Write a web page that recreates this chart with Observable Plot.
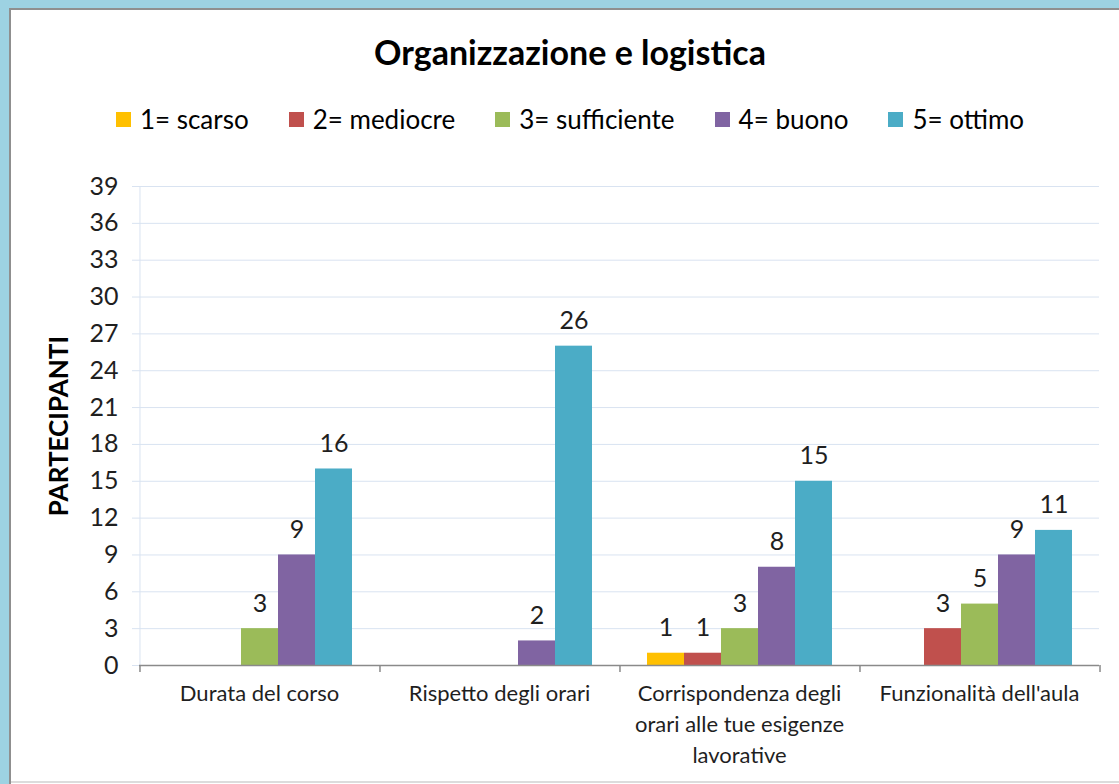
<!DOCTYPE html>
<html><head><meta charset="utf-8">
<script src="https://cdn.jsdelivr.net/npm/d3@7"></script>
<script src="https://cdn.jsdelivr.net/npm/@observablehq/plot@0.6"></script>
<style>
html,body{margin:0;padding:0;background:#fff;}
#frame{position:relative;width:1119px;height:784px;overflow:hidden;font-family:Lato, "Open Sans", sans-serif;color:#000;}
#bt{position:absolute;left:0;top:0;width:1119px;height:8px;background:#9dd2e2;}
#bl{position:absolute;left:0;top:0;width:9px;height:784px;background:#9dd2e2;}
#gt{position:absolute;left:9px;top:8px;width:1110px;height:2px;background:#8f8f8f;}
#gl{position:absolute;left:9px;top:8px;width:2px;height:776px;background:#8f8f8f;}
#gb{position:absolute;left:11px;top:781px;width:1108px;height:2px;background:#dcdcdc;}
#title{position:absolute;left:11px;width:1118px;top:30px;text-align:center;font-weight:bold;font-size:34px;line-height:44px;}
#legend{position:absolute;left:11px;width:1118px;top:104px;height:30px;display:flex;justify-content:center;align-items:center;font-size:26px;}
#legend .item{display:flex;align-items:center;margin:0 20px;}
#legend .sw{width:15px;height:15px;margin-right:9px;}
#chart{position:absolute;left:11px;top:160px;}
</style>
</head><body>
<div id="frame">
  <div id="bt"></div><div id="bl"></div><div id="gt"></div><div id="gl"></div><div id="gb"></div>
  <div id="title">Organizzazione e logistica</div>
  <div id="legend"></div>
  <div id="chart"></div>
</div>
<script>
const categories = ["Durata del corso", "Rispetto degli orari", "Corrispondenza degli orari alle tue esigenze lavorative", "Funzionalità dell'aula"];
const tickLabels = ["Durata del corso", "Rispetto degli orari", "Corrispondenza degli\norari alle tue esigenze\nlavorative", "Funzionalità dell'aula"];
const series = ["1= scarso", "2= mediocre", "3= sufficiente", "4= buono", "5= ottimo"];
const colors = ["#FFC000", "#C0504D", "#9BBB59", "#8064A2", "#4BACC6"];
const scarso = [0, 0, 1, 0];
const mediocre = [0, 0, 1, 3];
const sufficiente = [3, 0, 3, 5];
const buono = [9, 2, 8, 9];
const ottimo = [16, 26, 15, 11];
const yTicks = d3.range(0, 40, 3);

const values = [scarso, mediocre, sufficiente, buono, ottimo];
const data = [];
categories.forEach((c, ci) => series.forEach((s, si) => data.push({cat: c, series: s, value: values[si][ci]})));
const shown = data.filter(d => d.value > 0);

// legend
const legend = d3.select("#legend");
series.forEach((s, i) => {
  const it = legend.append("div").attr("class", "item");
  it.append("div").attr("class", "sw").style("background", colors[i]);
  it.append("span").text(s);
});

const W = 1108, H = 620, ML = 127, MR = 19, MT = 26, MB = 115;
const PO = 0.74;
const bw = (W - ML - MR) / categories.length;
const step = bw / (series.length + 2 * PO);
const edge = PO * step + step / 2;
const GRID = "#d9e3f1";
const AXIS = "#8a8a8a";
const INK = "#1f1f1f";

const chart = Plot.plot({
  width: W, height: H,
  marginLeft: ML, marginRight: MR, marginTop: MT, marginBottom: MB,
  style: {fontFamily: "Lato, 'Open Sans', sans-serif", background: "white", color: INK, overflow: "visible"},
  fx: {domain: categories, padding: 0, axis: null, label: null},
  x: {domain: series, paddingInner: 0, paddingOuter: PO, axis: null},
  y: {domain: [0, 39], axis: null},
  color: {domain: series, range: colors},
  marks: [
    Plot.gridY(yTicks, {stroke: GRID, strokeOpacity: 1}),
    Plot.axisY(yTicks, {tickSize: 7, tickPadding: 14, stroke: GRID, strokeOpacity: 1, fontSize: 25, fill: INK, label: null}),
    Plot.axisY({ticks: [], label: "PARTECIPANTI", labelAnchor: "center", labelOffset: 90, labelArrow: false, fontSize: 26, fontWeight: "bold", fill: "#000"}),
    Plot.ruleX([series[0]], {x: d => d, fx: () => categories[0], y1: 0, y2: 39, dx: -edge, stroke: GRID}),
    Plot.barY(shown, {fx: "cat", x: "series", y: "value", fill: "series"}),
    Plot.ruleY([0], {stroke: AXIS, strokeWidth: 1.5}),
    Plot.ruleX(categories, {fx: d => d, x: () => series[0], y1: 0, y2: 0, insetBottom: -7, dx: -edge, stroke: AXIS, strokeWidth: 1.5}),
    Plot.ruleX([categories[categories.length - 1]], {fx: d => d, x: () => series[series.length - 1], y1: 0, y2: 0, insetBottom: -7, dx: edge, stroke: AXIS, strokeWidth: 1.5}),
    Plot.text(shown, {fx: "cat", x: "series", y: "value", text: d => String(d.value), dy: -17, lineAnchor: "bottom", fontSize: 25, fill: INK}),
    Plot.axisFx({anchor: "bottom", tickSize: 0, tickPadding: 14, tickFormat: d => tickLabels[categories.indexOf(d)], fontSize: 22, lineHeight: 1.4, fill: INK, label: null})
  ]
});
document.getElementById("chart").appendChild(chart);
</script>
</body></html>
